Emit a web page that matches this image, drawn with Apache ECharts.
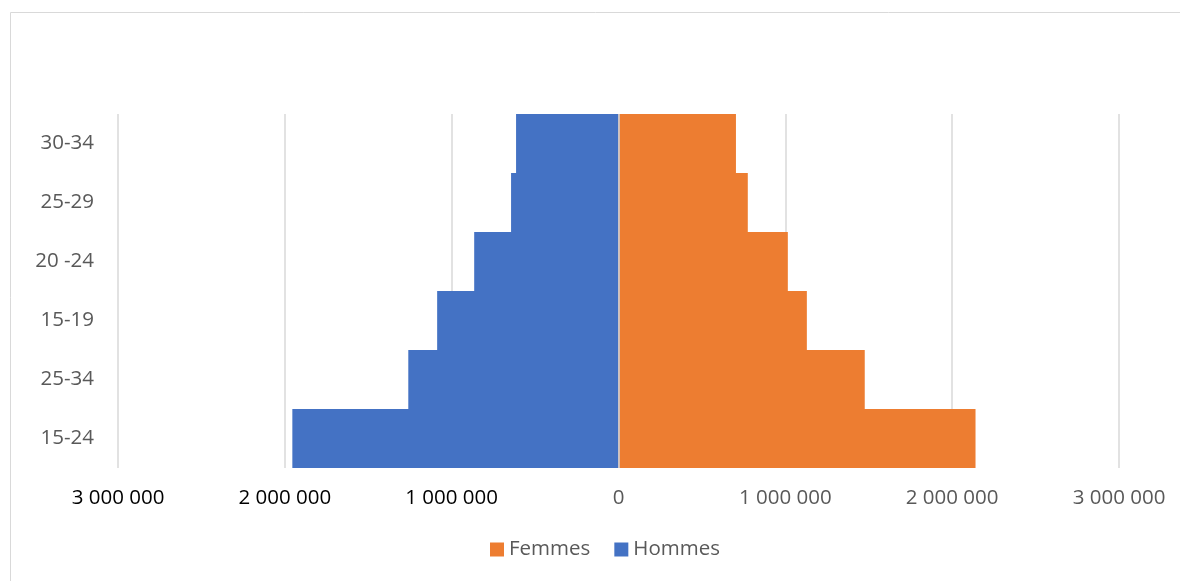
<!DOCTYPE html>
<html><head><meta charset="utf-8">
<script src="https://cdn.jsdelivr.net/npm/echarts@6/dist/echarts.min.js"></script>
<style>html,body{margin:0;padding:0;background:#fff}#c{width:1180px;height:581px}</style>
</head><body><div id="c"></div>
<script>
const categories = ['15-24', '25-34', '15-19', '20 -24', '25-29', '30-34'];
const hommes = [1955000, 1260000, 1087000, 865000, 644000, 614000];
const femmes = [2140000, 1476000, 1129000, 1015000, 775000, 704000];
const seriesNames = ['Femmes', 'Hommes'];

const fmt = v => String(Math.abs(v)).replace(/\B(?=(\d{3})+(?!\d))/g, ' ');
const font = 'Open Sans';
const chart = echarts.init(document.getElementById('c'));
chart.setOption({
  animation: false,
  textStyle: { fontFamily: font },
  graphic: [{ type: 'rect', shape: { x: 10.5, y: 12.5, width: 1300, height: 700 }, style: { fill: 'none', stroke: '#d9d9d9', lineWidth: 1 }, silent: true }],
  grid: { left: 118, right: 61, top: 114, bottom: 113 },
  legend: {
    data: seriesNames, top: 534, left: 485, itemWidth: 14, itemHeight: 14, itemGap: 24,
    icon: 'rect', textStyle: { color: '#595959', fontSize: 20.5, fontFamily: font }
  },
  xAxis: {
    type: 'value', min: -3000000, max: 3000000, interval: 1000000,
    axisLine: { show: false }, axisTick: { show: false },
    splitLine: { lineStyle: { color: '#d9d9d9', width: 1.5 } },
    axisLabel: { formatter: fmt, fontSize: 20.5, margin: 20, fontFamily: font,
      color: (v) => (v < 0 ? '#000000' : '#595959') }
  },
  yAxis: {
    type: 'category', data: categories,
    axisLine: { show: false, onZero: false }, axisTick: { show: false },
    axisLabel: { fontSize: 20.5, color: '#595959', margin: 24, fontFamily: font }
  },
  series: [
    { name: 'Hommes', type: 'bar', stack: 'p', data: hommes.map(v => -v), barCategoryGap: 0,
      itemStyle: { color: '#4472C4' } },
    { name: 'Femmes', type: 'bar', stack: 'p', data: femmes, barCategoryGap: 0,
      itemStyle: { color: '#ED7D31' },
      markLine: { silent: true, symbol: 'none', label: { show: false },
        lineStyle: { color: '#cfd5de', width: 1.5, type: 'solid' }, data: [{ xAxis: 0 }] } }
  ]
});
</script></body></html>
